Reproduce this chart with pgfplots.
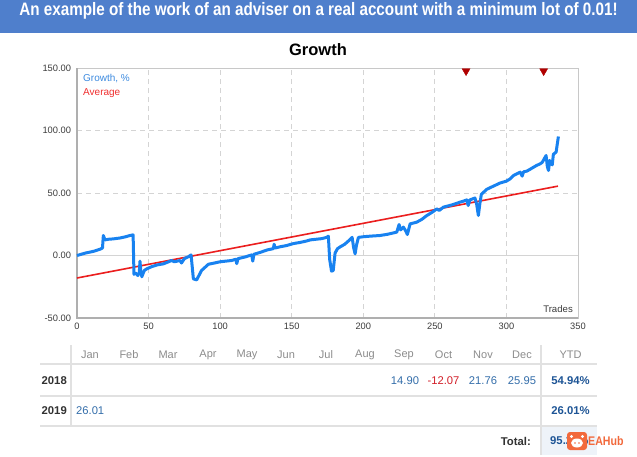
\documentclass[border=0pt]{standalone}
\usepackage{fontspec}
\setmainfont{Liberation Sans}
\usepackage{pgfplots}
\pgfplotsset{compat=1.18}
\definecolor{banner}{RGB}{79,127,204}
\definecolor{growth}{RGB}{24,130,240}
\definecolor{avg}{RGB}{235,30,30}
\definecolor{tri}{RGB}{176,0,0}
\definecolor{gridc}{RGB}{212,212,212}
\definecolor{framec}{RGB}{200,200,200}
\definecolor{axc}{RGB}{175,175,175}
\definecolor{tickc}{RGB}{60,60,60}
\definecolor{mon}{RGB}{140,140,140}
\definecolor{val}{RGB}{52,110,170}
\definecolor{ytd}{RGB}{30,85,150}
\definecolor{neg}{RGB}{210,30,40}
\definecolor{rowt}{RGB}{50,50,50}
\definecolor{linec}{RGB}{225,225,225}
\definecolor{totbg}{RGB}{238,243,249}
\definecolor{ea}{RGB}{242,105,60}
\definecolor{legb}{RGB}{61,139,224}
\definecolor{legr}{RGB}{240,48,48}
\begin{document}
\begin{tikzpicture}[x=1pt,y=1pt]
\fill[white] (0,0) rectangle (637,-455);
\fill[banner] (0,0) rectangle (637,-33);
\node[white,font=\bfseries\fontsize{18}{18}\selectfont,inner sep=0pt,anchor=base] at (318.5,-15.5) {\scalebox{0.846}[1]{An example of the work of an adviser on a real account with a minimum lot of 0.01!}};
\node[font=\bfseries\fontsize{16.5}{17}\selectfont,inner sep=0pt] at (318,-50) {Growth};
\begin{axis}[
  at={(77pt,-318pt)}, anchor=south west,
  width=501pt, height=250pt, scale only axis,
  xmin=0, xmax=350, ymin=-50, ymax=150,
  clip=false,
  axis line style={draw=framec, line width=1pt},
  xtick={0,50,100,150,200,250,300,350},
  xticklabels={0,50,100,150,200,250,300,350},
  ytick={-50,0,50,100,150},
  yticklabels={-50.00,0.00,50.00,100.00,150.00},
  /pgf/number format/assume math mode=true,
  tick style={draw=none},
  ticklabel style={font=\fontsize{9.3}{10}\selectfont, text=tickc},
  yticklabel style={xshift=-2.5pt},
  xticklabel style={yshift=-1.5pt},
  grid=major,
  major grid style={draw=gridc, line width=0.9pt, dash pattern=on 5pt off 4pt},
]
\draw[gridc, line width=1pt] (axis cs:0,0) -- (axis cs:350,0);
\draw[axc, line width=2pt] (axis cs:0,150) -- (axis cs:0,-50) -- (axis cs:350,-50);
\addplot[avg, line width=1.6pt] coordinates {(0,-18) (336,55.5)};
\addplot[growth, line width=3pt, line join=round] coordinates {
(0,0) (3,1) (6,2) (9,2.7) (12,3.5) (16,5) (17.8,6) (18.4,16) (19.6,12.5) (22,13) (25.4,13.3) (30,14) (34,15) (37,16) (39.2,16.5)
(39.8,-15) (41,-14) (42.5,-16) (43.5,-14) (44,-4.5) (44.6,-13) (45.3,-17) (47,-12) (48.7,-10.7) (52,-9) (56,-7.5) (60.3,-6.7)
(64,-5) (66,-4) (68,-5) (72,-4) (73,-6) (75,-2.5) (77.8,-1) (79.7,0.5) (81.3,-18.7) (83.6,-19.5) (87,-12) (91.8,-7) (96,-6)
(100,-5) (104,-4.5) (108,-4) (111,-3) (111.6,-6.5) (112.5,-2.5) (118,-1) (122,0.5) (122.8,-4.5) (123.6,1) (128,2.5) (133,4.5)
(137.2,5.5) (137.7,9) (138.5,6) (142,7) (146.5,8) (151,9.5) (156,10.5) (160,11.5) (163,12.5) (167,13) (171,13.5) (174.5,14.5)
(175.6,15.5) (176.5,-3) (177.8,-12.5) (179,-12) (180.3,2) (182,5.5) (184,7) (187,9) (190.8,12.8) (192.2,14.5) (193.3,6)
(194.3,1.3) (195.2,8) (196.6,14.5) (200,15) (205,15.5) (211.7,16) (217,17) (223.4,18.7) (225,24.8) (226,20.5) (228,22.7)
(229.5,20) (230.8,16.8) (232.7,25.3) (237.4,26.7) (241,29) (244.4,32) (248,34.5) (251.4,37.3) (253,36) (256,38.7) (262,40.5)
(267.6,42.7) (270,43.5) (272.3,44.5) (273.3,40) (274.5,44.5) (278,46) (279.2,41) (280.4,32) (281.5,42) (282.5,49) (286.3,53)
(290,55) (295.6,58) (300,59.5) (302.6,61.3) (305,64) (309.6,66.7) (311,63.5) (312,67) (314.3,67.5) (318,70) (321,72)
(323.5,73.3) (325,74.5) (327.7,80) (328.6,71) (329.4,68) (330.2,76) (331,74.5) (332,72.5) (332.8,81) (334.7,82.7) (336.3,95.2)
};
\addplot[only marks, mark=triangle*, mark size=4.6pt, mark options={rotate=180, fill=tri, draw=tri}] coordinates {(271.8,147.6) (326,147.6)};
\end{axis}
% legend and inner label
\node[anchor=west, inner sep=0pt, text=legb, font=\fontsize{10}{11}\selectfont] at (83,-79) {Growth, \%};
\node[anchor=west, inner sep=0pt, text=legr, font=\fontsize{10}{11}\selectfont] at (83,-93.5) {Average};
\node[anchor=east, inner sep=0pt, text=tickc, font=\fontsize{9.6}{10}\selectfont] at (573,-309) {Trades};
% table
\fill[totbg] (541,-426) rectangle (597,-455);
\draw[linec, line width=2pt] (40,-364) -- (597,-364);
\draw[linec, line width=2pt] (40,-396) -- (597,-396);
\draw[linec, line width=2pt] (40,-426) -- (597,-426);
\draw[linec, line width=2pt] (71,-345) -- (71,-426);
\draw[linec, line width=2pt] (541,-345) -- (541,-455);
\foreach \m/\xx in {Jan/90,Feb/129,Mar/168,Apr/208,May/247,Jun/286,Jul/326,Aug/365,Sep/404,Oct/443.5,Nov/483,Dec/522,YTD/570.5}
  \node[text=mon, font=\fontsize{11}{12}\selectfont, inner sep=0pt] at (\xx,-355) {\m};
\node[anchor=east, text=rowt, font=\bfseries\fontsize{11.3}{12}\selectfont, inner sep=0pt] at (67,-380.5) {2018};
\node[anchor=east, text=rowt, font=\bfseries\fontsize{11.3}{12}\selectfont, inner sep=0pt] at (67,-411) {2019};
\node[text=val, font=\fontsize{11.2}{12}\selectfont, inner sep=0pt] at (405,-380.5) {14.90};
\node[text=neg, font=\fontsize{11.2}{12}\selectfont, inner sep=0pt] at (443.5,-380.5) {-12.07};
\node[text=val, font=\fontsize{11.2}{12}\selectfont, inner sep=0pt] at (483,-380.5) {21.76};
\node[text=val, font=\fontsize{11.2}{12}\selectfont, inner sep=0pt] at (522,-380.5) {25.95};
\node[text=ytd, font=\bfseries\fontsize{11.3}{12}\selectfont, inner sep=0pt] at (570.5,-380.5) {54.94\%};
\node[anchor=west, text=val, font=\fontsize{11.2}{12}\selectfont, inner sep=0pt] at (76,-411) {26.01};
\node[text=ytd, font=\bfseries\fontsize{11.3}{12}\selectfont, inner sep=0pt] at (570.5,-411) {26.01\%};
\node[anchor=east, text=rowt, font=\bfseries\fontsize{11.3}{12}\selectfont, inner sep=0pt] at (531,-441) {Total:};
\node[anchor=west, text=ytd, font=\bfseries\fontsize{11.3}{12}\selectfont, inner sep=0pt] at (550,-441) {95.24\%};
% watermark logo
\fill[ea, rounded corners=3pt] (567,-432) rectangle (587,-450);
\fill[white] (577,-443) ellipse (6pt and 4.5pt);
\fill[white] (571.5,-436.5) circle (1.6pt);
\fill[white] (582.5,-436.5) circle (1.6pt);
\fill[ea] (575,-443) circle (0.9pt);
\fill[ea] (579,-443) circle (0.9pt);
\node[anchor=west, text=ea, font=\bfseries\fontsize{12.5}{13}\selectfont, inner sep=0pt] at (588,-441.5) {\scalebox{0.85}[1]{EAHub}};
\end{tikzpicture}
\end{document}
